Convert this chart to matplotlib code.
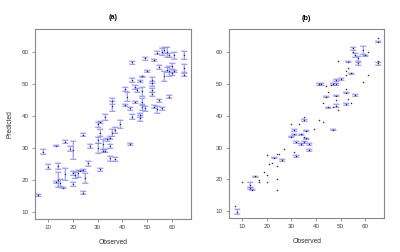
import matplotlib
matplotlib.use("Agg")
import matplotlib.pyplot as plt

plt.rcParams["font.family"] = ["Liberation Sans", "DejaVu Sans"]

# --- Panel (a): observed, predicted, half error ---
a_obs = [6, 8, 10, 13, 14, 13, 14, 15, 16, 17, 17, 19, 20, 20, 20, 21, 22, 23,
         24, 24, 25, 26, 27, 24, 30, 30, 30, 31, 31, 31, 32, 32, 33, 33, 34, 35,
         35, 35, 36, 36, 36, 37, 37, 39, 41, 41, 42, 43, 43, 44, 44, 44, 45, 45,
         46, 47, 47, 47, 48, 48, 48, 48, 49, 49, 50, 52, 52, 52, 52, 53, 53, 54,
         54, 55, 55, 56, 56, 57, 57, 58, 58, 59, 59, 59, 60, 61, 61, 65, 65, 65, 60]
a_pred = [15.2, 28.8, 24.1, 30.7, 24.4, 19.4, 20.0, 19.1, 17.5, 32.0, 21.8, 29.7,
          29.4, 22.2, 18.7, 21.5, 22.0, 22.9, 34.2, 16.0, 20.5, 25.2, 30.6, 23.0,
          32.5, 29.9, 37.4, 38.0, 34.8, 23.3, 31.2, 29.1, 39.6, 29.1, 32.7, 33.2,
          30.7, 26.7, 43.2, 44.7, 34.8, 35.6, 26.4, 37.5, 48.4, 43.5, 46.1, 42.4,
          31.1, 56.8, 51.3, 39.8, 49.0, 44.4, 48.2, 51.0, 39.3, 40.3, 52.4, 47.7,
          44.5, 42.9, 58.1, 42.4, 54.1, 51.3, 50.3, 48.2, 46.8, 57.6, 42.9, 59.9,
          42.1, 55.5, 44.9, 60.2, 42.4, 60.7, 52.6, 60.0, 54.5, 59.2, 54.2, 46.1,
          55.7, 59.0, 54.1, 59.2, 55.0, 52.9, 53.4]
a_err = [0.2, 0.7, 0.8, 0.2, 1.0, 0.3, 2.4, 1.0, 0.2, 0.6, 2.0, 0.8, 2.8, 0.6,
         0.6, 1.0, 1.0, 0.3, 0.6, 0.6, 1.5, 0.8, 0.6, 0.4, 1.0, 1.5, 0.8, 0.3,
         1.0, 0.5, 1.5, 0.5, 1.0, 0.4, 0.4, 0.4, 0.6, 0.8, 1.5, 1.0, 1.0, 1.0,
         0.6, 1.2, 0.6, 0.4, 1.5, 0.5, 0.3, 0.5, 0.6, 0.8, 0.6, 0.3, 0.6, 0.4,
         1.0, 0.5, 0.3, 1.5, 1.0, 1.0, 0.4, 0.8, 0.2, 1.0, 0.8, 0.6, 0.6, 0.3,
         0.5, 0.4, 1.0, 0.6, 0.4, 1.0, 0.5, 0.8, 1.5, 1.5, 0.8, 0.6, 1.5, 0.6,
         1.0, 1.0, 0.4, 1.2, 1.2, 0.5, 0.4]

# --- Panel (b): points with error bars ---
b_obs = [8, 13, 13, 14, 15, 23, 26, 30, 31, 31, 32, 32, 34, 34, 35, 35, 36, 36,
         37, 37, 41, 42, 44, 45, 47, 48, 48, 48, 48, 47, 50, 52, 52, 53, 54, 55,
         56, 56, 57, 57, 59, 60, 65, 65]
b_pred = [9.8, 18.2, 17.2, 16.7, 20.9, 26.8, 26.1, 33.4, 35.6, 34.2, 31.7, 27.4,
          34.2, 31.1, 38.7, 31.6, 35.3, 32.9, 31.1, 29.2, 50.0, 50.0, 46.0, 42.7,
          50.0, 51.3, 50.0, 46.4, 43.2, 35.6, 51.6, 47.3, 43.7, 57.1, 53.4, 61.3,
          59.3, 46.5, 58.1, 56.5, 60.7, 59.1, 63.4, 56.5]
b_err = [0.7, 0.8, 0.2, 0.2, 0.2, 0.2, 0.3, 0.2, 0.3, 0.2, 0.3, 0.3, 0.2, 0.3,
         0.3, 0.3, 0.2, 0.2, 0.2, 0.4, 0.2, 0.2, 0.2, 0.2, 0.2, 0.3, 0.2, 0.2,
         0.4, 0.2, 0.3, 0.2, 0.3, 0.2, 0.2, 0.4, 0.6, 0.3, 0.8, 0.5, 1.2, 0.2,
         0.2, 0.6]

# --- Panel (b): points without error bars ---
b_dot_obs = [7, 10, 17, 17, 19, 20, 20, 20, 21, 22, 24, 24, 24, 24, 25, 27, 30,
             31, 33, 35, 35, 39, 41, 43, 43, 44, 45, 46, 48, 49, 49, 47, 52, 52,
             52, 53, 53, 54, 55, 59, 61, 61, 65, 65]
b_dot_pred = [11.5, 19.0, 19.2, 19.9, 22.2, 21.2, 19.0, 27.6, 24.9, 25.2, 28.1,
              24.3, 20.1, 16.5, 27.9, 29.6, 37.3, 28.6, 37.3, 39.6, 33.2, 35.8,
              38.7, 44.0, 38.1, 49.5, 47.4, 49.6, 45.0, 41.9, 57.3, 42.7, 48.6,
              52.9, 54.2, 55.2, 45.4, 43.9, 60.0, 50.6, 53.0, 60.0, 64.6, 57.4]

GRAY = "#888888"


def style_axes(ax, title):
    ax.set_xlim(4.7, 67.6)
    ax.set_ylim(7.7, 67.3)
    ax.set_xticks([10, 20, 30, 40, 50, 60])
    ax.set_yticks([10, 20, 30, 40, 50, 60])
    for s in ax.spines.values():
        s.set_color(GRAY)
        s.set_linewidth(0.8)
    ax.tick_params(colors=GRAY, labelcolor="#444444", labelsize=4.5,
                   length=2.5, width=0.6, pad=2)
    ax.set_title(title, fontsize=5.2, fontweight="bold", pad=7)
    ax.set_xlabel("Observed", fontsize=4.8, color="#333333", labelpad=6)


def draw_bars(ax, x, y, e):
    # soft halo + thin core, like the reference's light blue bars
    ax.errorbar(x, y, yerr=e, fmt="none", ecolor="#d6d6ff", elinewidth=1.3,
                capsize=2.2, capthick=1.3)
    ax.errorbar(x, y, yerr=e, fmt="none", ecolor="#7a7aff", elinewidth=0.4,
                capsize=2.2, capthick=0.4)
    ax.plot(x, y, "o", color="#222244", markersize=1.0, markeredgewidth=0)


fig = plt.figure(figsize=(4.0, 2.52), dpi=100)
ax_a = fig.add_axes([0.0875, 0.131, 0.389, 0.754])
ax_b = fig.add_axes([0.573, 0.134, 0.387, 0.750])

draw_bars(ax_a, a_obs, a_pred, a_err)
style_axes(ax_a, "(a)")
ax_a.set_ylabel("Predicted", fontsize=4.8, color="#333333", labelpad=6)

draw_bars(ax_b, b_obs, b_pred, b_err)
ax_b.plot(b_dot_obs, b_dot_pred, "o", color="#333333", markersize=1.1,
          markeredgewidth=0)
style_axes(ax_b, "(b)")

fig.savefig("out.png", dpi=100)
